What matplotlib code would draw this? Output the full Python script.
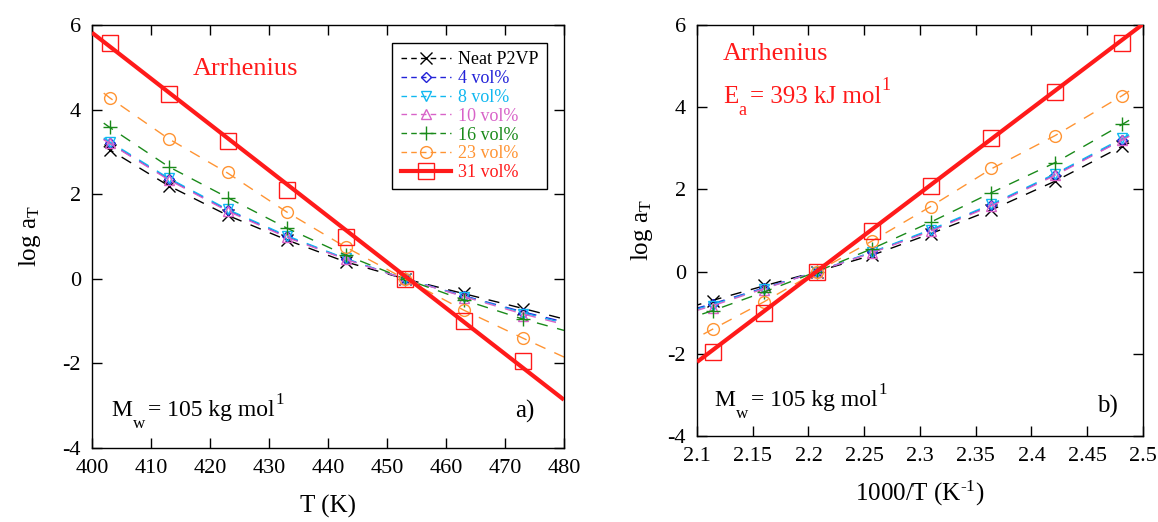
import numpy as np
import matplotlib
matplotlib.use("Agg")
import matplotlib.pyplot as plt
from matplotlib.lines import Line2D
from matplotlib.ticker import MultipleLocator, FormatStrFormatter

plt.rcParams['font.family'] = ['Liberation Serif', 'DejaVu Serif']
plt.rcParams['mathtext.fontset'] = 'custom'
plt.rcParams['mathtext.rm'] = 'Liberation Serif'
plt.rcParams['mathtext.it'] = 'Liberation Serif:italic'
plt.rcParams['axes.unicode_minus'] = False

# --- données ---
T = np.array([403, 413, 423, 433, 443, 453, 463, 473])
labels = ["Neat P2VP", "4 vol%", "8 vol%", "10 vol%", "16 vol%", "23 vol%", "31 vol%"]

neat = [3.05, 2.20, 1.50, 0.92, 0.40, 0.0, -0.33, -0.71]
v4 = [3.21, 2.36, 1.62, 1.00, 0.47, 0.0, -0.40, -0.80]
v8 = [3.24, 2.38, 1.64, 1.02, 0.48, 0.0, -0.42, -0.83]
v10 = [3.20, 2.34, 1.60, 0.98, 0.46, 0.0, -0.45, -0.88]
v16 = [3.58, 2.65, 1.92, 1.20, 0.56, 0.0, -0.50, -0.95]
v23 = [4.28, 3.31, 2.53, 1.58, 0.75, 0.0, -0.74, -1.40]
v31 = [5.57, 4.38, 3.26, 2.09, 0.98, 0.0, -1.00, -1.95]

# courbes d'ajustement (tirets)
fit_T = np.array([402, 403, 413, 423, 433, 443, 453, 463, 473, 480])
fit_neat = [3.13, 3.05, 2.20, 1.50, 0.92, 0.40, 0.0, -0.35, -0.70, -0.95]
fit_v4 = [3.30, 3.21, 2.36, 1.62, 1.00, 0.47, 0.0, -0.40, -0.78, -1.02]
fit_v8 = [3.33, 3.24, 2.38, 1.64, 1.02, 0.48, 0.0, -0.41, -0.80, -1.05]
fit_v10 = [3.29, 3.20, 2.34, 1.60, 0.98, 0.46, 0.0, -0.42, -0.83, -1.08]
fit_v16 = [3.68, 3.58, 2.65, 1.92, 1.20, 0.56, 0.0, -0.50, -0.95, -1.22]
fit_v23 = [4.39, 4.28, 3.31, 2.50, 1.58, 0.75, 0.0, -0.74, -1.40, -1.85]

# droite d'Arrhenius
arr_T = [400, 480]
arr_logaT_T = [5.82, -2.86]
arr_invT = [2.1, 2.5]
arr_logaT_inv = [-2.2, 6.02]

data = [neat, v4, v8, v10, v16, v23]
fits = [fit_neat, fit_v4, fit_v8, fit_v10, fit_v16, fit_v23]
colors = ['black', '#2323d8', '#10b8f0', '#d863c8', '#1a8a1a', '#ff9433']
markers = ['x', 'D', 'v', '^', '+', 'o']
msizes = [8, 5.5, 7, 7, 10, 8.5]
RED = '#ff1a1a'

fig = plt.figure(figsize=(11.58, 5.22), dpi=100)
ax1 = fig.add_axes([0.0794, 0.1418, 0.4076, 0.8103])
ax2 = fig.add_axes([0.6019, 0.1648, 0.3851, 0.7874])


def draw(ax, x, fx, ax_arr, ay_arr):
    for d, f, c, m, s in zip(data, fits, colors, markers, msizes):
        ax.plot(fx, f, ls='--', dashes=(8, 7), color=c, lw=1)
        ax.plot(x, d, ls='none', marker=m, ms=s, mfc='none', mec=c, mew=1)
    ax.plot(ax_arr, ay_arr, color=RED, lw=3, solid_capstyle='butt', zorder=5)
    ax.plot(x, v31, ls='none', marker='s', ms=12, mfc='none', mec=RED, mew=1, zorder=6)
    ax.set_ylim(-4, 6)
    ax.yaxis.set_major_locator(MultipleLocator(2))
    ax.tick_params(direction='in', top=True, right=True, length=7, width=1,
                   labelsize=16, pad=8)
    for sp in ax.spines.values():
        sp.set_linewidth(1)


def sub_text(ax, x, y, main, sub, rest, sup, size, color='black'):
    # M_w = ... mol^1 avec indice bien abaissé, comme sur l'original
    t1 = ax.text(x, y, main, transform=ax.transAxes, fontsize=size, color=color,
                 va='baseline')
    t2 = ax.annotate(sub, xy=(1, 0), xycoords=t1, xytext=(0.5, -8),
                     textcoords='offset points', fontsize=size * 0.72,
                     color=color, va='bottom')
    t3 = ax.annotate(rest, xy=(1, 0), xycoords=(t2, t1), xytext=(2, 0),
                     textcoords='offset points', fontsize=size, color=color,
                     va='bottom')
    ax.annotate(sup, xy=(1, 0), xycoords=t3, xytext=(0.5, size * 0.55),
                textcoords='offset points', fontsize=size * 0.72, color=color,
                va='bottom')


# a) en fonction de T
draw(ax1, T, fit_T, arr_T, arr_logaT_T)
ax1.set_xlim(400, 480)
ax1.xaxis.set_major_locator(MultipleLocator(10))
ax1.set_xlabel('T (K)', fontsize=18, labelpad=12)
ax1.set_ylabel(r'log a$_\mathrm{T}$', fontsize=18, labelpad=14)
ax1.text(0.326, 0.882, 'Arrhenius', color=RED, fontsize=19, ha='center',
         va='baseline', transform=ax1.transAxes)
sub_text(ax1, 0.042, 0.076, 'M', 'w', '= 105 kg mol', '1', 17)
ax1.text(0.896, 0.071, 'a)', fontsize=18, va='baseline', transform=ax1.transAxes)

handles = []
for c, m, s in zip(colors, markers, msizes):
    handles.append(Line2D([], [], color=c, ls='--', dashes=(4, 3), lw=1, marker=m,
                          ms=s, mfc='none', mec=c, mew=1))
handles.append(Line2D([], [], color=RED, lw=3, marker='s', ms=12, mfc='none',
                      mec=RED, mew=1))
leg = ax1.legend(handles, labels, loc='upper right', bbox_to_anchor=(0.964, 0.957),
                 fontsize=13, fancybox=False, framealpha=1, edgecolor='black',
                 handlelength=2.8, handletextpad=0.4, labelspacing=0.1,
                 borderpad=0.45, borderaxespad=0, labelcolor='linecolor')
leg.get_frame().set_linewidth(1)

# b) en fonction de 1000/T
draw(ax2, 1000.0 / T, 1000.0 / fit_T, arr_invT, arr_logaT_inv)
ax2.set_xlim(2.1, 2.5)
ax2.xaxis.set_major_locator(MultipleLocator(0.05))
ax2.xaxis.set_major_formatter(FormatStrFormatter('%g'))
ax2.set_xlabel('1000/T (K$^{\\mathrm{\u2010}1}$)', fontsize=18, labelpad=9)
ax2.set_ylabel(r'log a$_\mathrm{T}$', fontsize=18, labelpad=9)
ax2.text(0.058, 0.915, 'Arrhenius', color=RED, fontsize=19, va='baseline',
         transform=ax2.transAxes)
sub_text(ax2, 0.058, 0.81, 'E', 'a', '= 393 kJ mol', '1', 18, color=RED)
sub_text(ax2, 0.04, 0.072, 'M', 'w', '= 105 kg mol', '1', 17)
ax2.text(0.897, 0.058, 'b)', fontsize=18, va='baseline', transform=ax2.transAxes)

fig.savefig('out.png', dpi=100)
